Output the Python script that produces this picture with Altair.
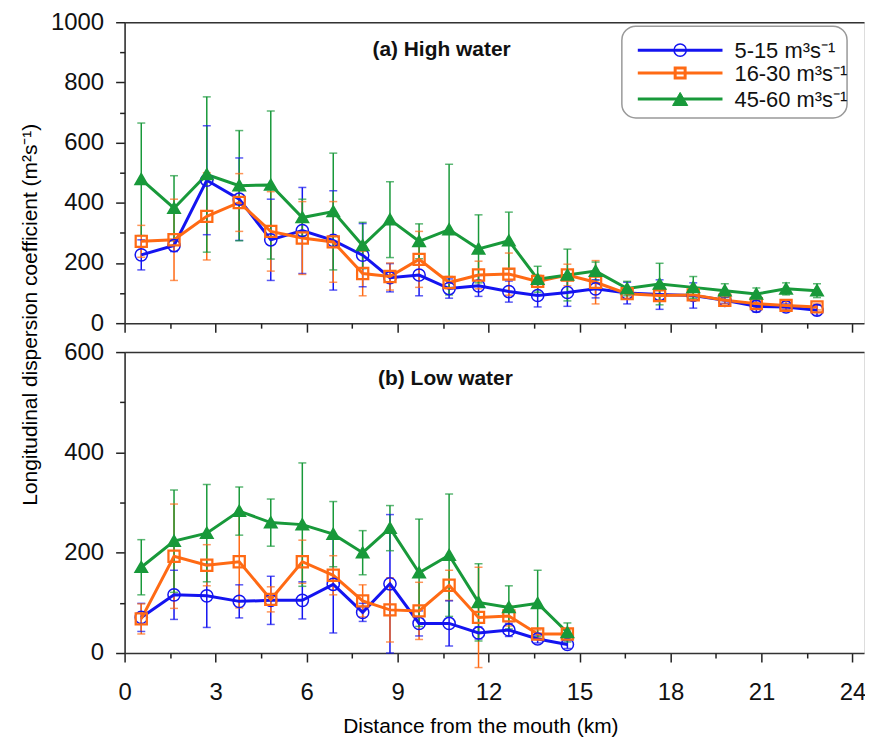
import altair as alt
import pandas as pd

# ---------------- data ----------------
KM = [0.55, 1.63, 2.71, 3.78, 4.82, 5.86, 6.88, 7.85, 8.75, 9.71, 10.7, 11.67,
      12.67, 13.62, 14.6, 15.53, 16.57, 17.64, 18.75, 19.79, 20.83, 21.81, 22.83]

SERIES = ["5-15 m³s⁻¹", "16-30 m³s⁻¹", "45-60 m³s⁻¹"]
COLORS = ["#1414F0", "#FF6A14", "#18993A"]
SHAPES = ["circle", "square", "triangle-up"]
FILLS = ["transparent", "transparent", "#18993A"]
SIZES = [150, 100, 230]
STROKES = [1.5, 3, 1]

# (a) High water
hw_blue = [227, 258, 475, 412, 277, 308, 275, 226, 151, 160, 115, 124, 105, 92, 102, 114, 100, 95, 92, 76, 56, 54, 43]
hw_blue_err = [50, 20, 181, 137, 135, 143, 165, 105, 47, 69, 32, 35, 35, 38, 46, 30, 36, 49, 42, 10, 19, 10, 17]
hw_orange = [272, 277, 355, 401, 305, 283, 270, 165, 155, 212, 135, 160, 163, 139, 160, 136, 98, 92, 94, 76, 65, 59, 54]
hw_orange_err = [53, 135, 145, 96, 132, 121, 134, 74, 45, 93, 20, 46, 70, 20, 36, 72, 15, 15, 15, 12, 12, 12, 10]
hw_green = [478, 382, 494, 457, 459, 351, 371, 258, 344, 272, 311, 247, 274, 146, 160, 173, 115, 130, 119, 108, 97, 114, 108]
hw_green_err = [187, 108, 258, 183, 246, 61, 194, 77, 126, 58, 217, 113, 95, 43, 86, 30, 24, 69, 36, 23, 20, 20, 23]

# (b) Low water
lw_blue = [71, 116, 114, 103, 105, 105, 137, 81, 138, 59, 59, 40, 46, 28, 17]
lw_blue_err = [28, 49, 63, 33, 48, 37, 97, 18, 138, 25, 45, 12, 13, 8, 8]
lw_orange = [68, 193, 175, 182, 107, 182, 155, 104, 86, 84, 135, 71, 74, 38, 38]
lw_orange_err = [30, 104, 41, 92, 25, 43, 39, 32, 64, 57, 30, 100, 20, 8, 8]
lw_green = [171, 223, 239, 283, 260, 256, 237, 200, 249, 160, 195, 101, 91, 99, 41]
lw_green_err = [55, 102, 97, 48, 47, 123, 65, 44, 45, 107, 122, 77, 43, 66, 19]

X_TITLE = "Distance from the mouth (km)"
Y_TITLE = "Longitudinal dispersion coefficient (m²s⁻¹)"
FONT = "Liberation Sans"
X_MAX = 24.38
PANEL_H = 302


def build_df(means, errs):
    rows = []
    for s, m_list, e_list in zip(SERIES, means, errs):
        for k, m, e in zip(KM, m_list, e_list):
            rows.append({"km": k, "series": s, "mean": m, "lo": m - e, "hi": m + e})
    return pd.DataFrame(rows)


df_hw = build_df([hw_blue, hw_orange, hw_green], [hw_blue_err, hw_orange_err, hw_green_err])
df_lw = build_df([lw_blue, lw_orange, lw_green], [lw_blue_err, lw_orange_err, lw_green_err])

color_scale = alt.Scale(domain=SERIES, range=COLORS)
shape_scale = alt.Scale(domain=SERIES, range=SHAPES)
fill_scale = alt.Scale(domain=SERIES, range=FILLS)
size_scale = alt.Scale(domain=SERIES, range=SIZES)
sw_scale = alt.Scale(domain=SERIES, range=STROKES)

AX = dict(domainColor="#333333", domainWidth=1.6, tickColor="#222222", tickWidth=1.5,
          grid=False, labelFont=FONT, titleFont=FONT, labelColor="#111111")


def panel(df, ymax, label, lab_x, lab_y, bottom, with_legend):
    xs = alt.Scale(domain=[0, X_MAX], nice=False, zero=False)
    ys = alt.Scale(domain=[0, ymax], nice=False)

    x_major = alt.Axis(orient="bottom", values=list(range(0, 25, 3)), tickSize=9,
                       labels=bottom, labelFontSize=24, labelPadding=19, labelFlush=False,
                       title=X_TITLE if bottom else None, titleFontSize=21,
                       titleFontWeight="normal", titleX=357, titleY=80,
                       titleBaseline="alphabetic", titleAlign="center", **AX)
    x_minor = alt.Axis(orient="bottom", values=[1.5 + 3 * i for i in range(8)], tickSize=5,
                       labels=False, domain=False, title=None, **AX)
    x_top = alt.Axis(orient="top", ticks=False, labels=False, domain=True, title=None, **AX)

    y_major = alt.Axis(orient="left", values=list(range(0, ymax + 1, 200)), tickSize=9,
                       labelFontSize=24, labelPadding=12, format="d",
                       title=Y_TITLE if with_legend else None, titleFontSize=21,
                       titleFontWeight="normal", titleX=-94, titleY=293,
                       titleAlign="center", titleBaseline="middle", titleAngle=270, **AX)
    y_minor = alt.Axis(orient="left", values=list(range(100, ymax, 200)), tickSize=5,
                       labels=False, domain=False, title=None, **AX)

    base = alt.Chart(df)
    color = alt.Color("series:N", scale=color_scale, legend=None)

    rules = base.mark_rule(strokeWidth=1.5).encode(
        x=alt.X("km:Q", scale=xs, axis=x_major),
        y=alt.Y("lo:Q", scale=ys, axis=y_major),
        y2="hi:Q", color=color)
    caps_lo = base.mark_tick(orient="horizontal", size=8, thickness=1.5).encode(
        x=alt.X("km:Q", scale=xs, axis=x_minor),
        y=alt.Y("lo:Q", scale=ys, axis=y_minor), color=color)
    caps_hi = base.mark_tick(orient="horizontal", size=8, thickness=1.5).encode(
        x=alt.X("km:Q", scale=xs, axis=None),
        y=alt.Y("hi:Q", scale=ys, axis=None), color=color)
    lines = base.mark_line(strokeWidth=3).encode(
        x=alt.X("km:Q", scale=xs, axis=x_top),
        y=alt.Y("mean:Q", scale=ys, axis=None), color=color)
    points = base.mark_point(opacity=1).encode(
        x=alt.X("km:Q", scale=xs, axis=None),
        y=alt.Y("mean:Q", scale=ys, axis=None),
        shape=alt.Shape("series:N", scale=shape_scale, legend=None),
        fill=alt.Fill("series:N", scale=fill_scale, legend=None),
        stroke=alt.Stroke("series:N", scale=color_scale, legend=None),
        size=alt.Size("series:N", scale=size_scale, legend=None),
        strokeWidth=alt.StrokeWidth("series:N", scale=sw_scale, legend=None))
    text = alt.Chart(pd.DataFrame({"km": [lab_x], "v": [lab_y], "t": [label]})).mark_text(
        font=FONT, fontSize=21, fontWeight="bold", align="center", baseline="alphabetic",
        color="#111111").encode(
        x=alt.X("km:Q", scale=xs, axis=None), y=alt.Y("v:Q", scale=ys, axis=None), text="t:N")

    layers = [rules, caps_lo, caps_hi, lines, points, text]

    if with_legend:
        box = alt.Chart(pd.DataFrame({"s": ["box"]})).mark_rect(
            fill=None, stroke="#999999", strokeWidth=1.5, cornerRadius=14).encode(
            x=alt.value(499), x2=alt.value(725), y=alt.value(4), y2=alt.value(96))
        layers.append(box)
        rows_y = [28, 51, 77]
        for i, s in enumerate(SERIES):
            one = alt.Chart(pd.DataFrame({"s": [s]}))
            layers.append(one.mark_rule(strokeWidth=3, color=COLORS[i]).encode(
                x=alt.value(515), x2=alt.value(600), y=alt.value(rows_y[i])))
            layers.append(one.mark_point(shape=SHAPES[i], size=SIZES[i], opacity=1,
                                         fill=FILLS[i], stroke=COLORS[i],
                                         strokeWidth=STROKES[i]).encode(
                x=alt.value(557.5), y=alt.value(rows_y[i])))
            layers.append(one.mark_text(font=FONT, fontSize=22, align="left",
                                        baseline="middle", color="#111111").encode(
                x=alt.value(612), y=alt.value(rows_y[i] + 1), text="s:N"))

    return alt.layer(*layers).resolve_axis(x="independent", y="independent").properties(
        width=742, height=PANEL_H)


top = panel(df_hw, 1000, "(a) High water", 10.45, 887, bottom=False, with_legend=True)
bot = panel(df_lw, 600, "(b) Low water", 10.58, 534, bottom=True, with_legend=False)

chart = alt.vconcat(top, bot, spacing=29, bounds="flush").properties(
    padding={"left": 11, "top": 0, "right": -2, "bottom": 0}
).configure_view(stroke=None).configure(font=FONT)

chart.save("out.html", embed_options={"renderer": "svg", "actions": False})
